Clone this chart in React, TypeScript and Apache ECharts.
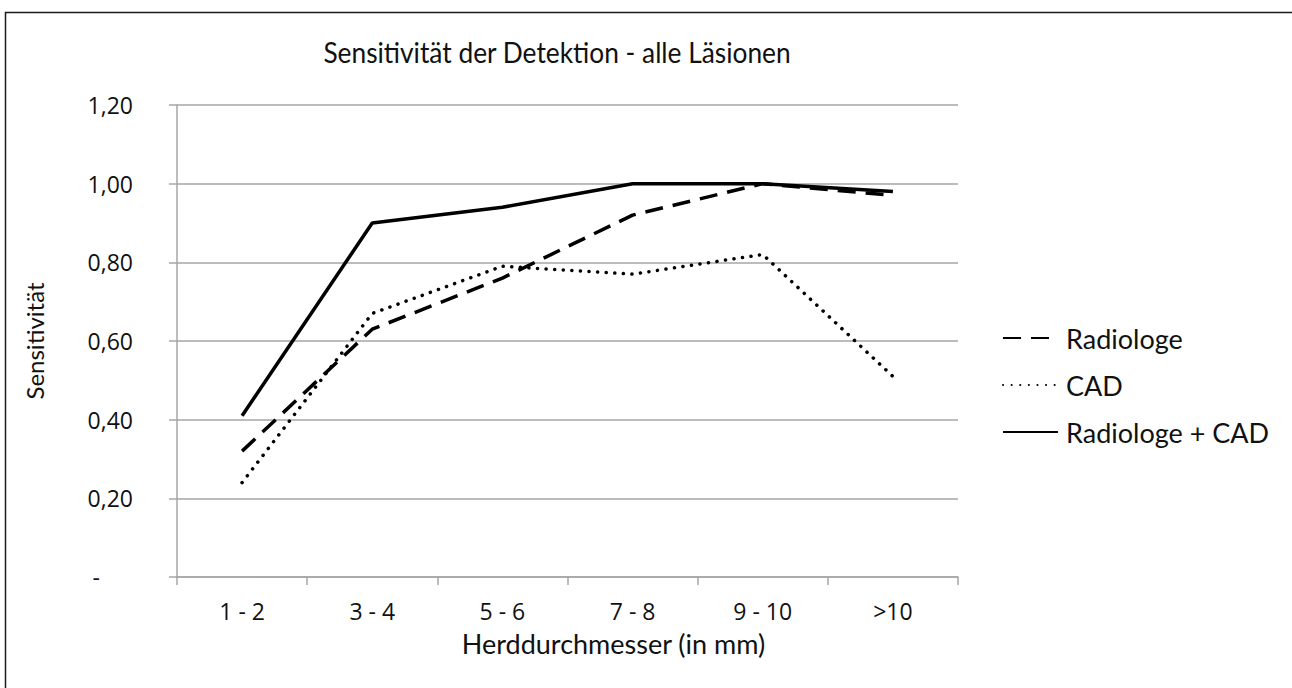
import React, { useEffect, useRef } from "react";
import * as echarts from "echarts";

const categories = ["1 - 2", "3 - 4", "5 - 6", "7 - 8", "9 - 10", ">10"];
const radiologe = [0.32, 0.63, 0.76, 0.92, 1.0, 0.97];
const cad = [0.24, 0.67, 0.79, 0.77, 0.82, 0.51];
const radiologeCad = [0.41, 0.9, 0.94, 1.0, 1.0, 0.98];
const seriesNames = ["Radiologe", "CAD", "Radiologe + CAD"];
const titleText = "Sensitivität der Detektion - alle Läsionen";
const xAxisTitle = "Herddurchmesser (in mm)";
const yAxisTitle = "Sensitivität";

export default function App() {
  const ref = useRef<HTMLDivElement>(null);
  useEffect(() => {
    if (!ref.current) return;
    const chart = echarts.init(ref.current, null, { renderer: "svg" });
    const tickFont = "Open Sans";
    const labelFont = "Lato";
    chart.setOption({
      animation: false,
      backgroundColor: "#fff",
      graphic: [
        {
          type: "rect",
          shape: { x: 5.5, y: 12.5, width: 1400, height: 800 },
          style: { fill: "none", stroke: "#1a1a1a", lineWidth: 1.5 },
          silent: true,
        },
        {
          type: "text",
          x: 557,
          y: 52,
          scaleX: 0.94,
          style: {
            text: titleText,
            fontFamily: labelFont,
            fontSize: 28,
            fill: "#111",
            align: "center",
            verticalAlign: "middle",
          },
        },
      ],
      grid: { left: 177, right: 334, top: 105, bottom: 111, containLabel: false },
      legend: {
        orient: "vertical",
        left: 997,
        top: 318,
        itemWidth: 55,
        itemHeight: 14,
        itemGap: 17,
        itemStyle: { opacity: 0 },
        textStyle: {
          fontFamily: labelFont,
          fontSize: 27,
          color: "#111",
          lineHeight: 30,
          padding: [0, 0, 0, 3],
        },
        data: seriesNames,
      },
      xAxis: {
        type: "category",
        data: categories,
        boundaryGap: true,
        axisLine: { lineStyle: { color: "#a6a6a6", width: 1.5 } },
        axisTick: { show: true, length: 8, lineStyle: { color: "#a6a6a6", width: 1.5 } },
        axisLabel: { fontFamily: tickFont, fontSize: 23, color: "#111", margin: 22 },
        name: xAxisTitle,
        nameLocation: "middle",
        nameGap: 53,
        nameTextStyle: { fontFamily: labelFont, fontSize: 27, color: "#111", padding: [0, 0, 0, 92] },
      },
      yAxis: {
        type: "value",
        min: 0,
        max: 1.2,
        interval: 0.2,
        axisLine: { show: true, lineStyle: { color: "#a6a6a6", width: 1.5 } },
        axisTick: { show: true, length: 8, lineStyle: { color: "#a6a6a6", width: 1.5 } },
        splitLine: { lineStyle: { color: "#a6a6a6", width: 1.5 } },
        axisLabel: {
          fontFamily: tickFont,
          fontSize: 23,
          color: "#111",
          margin: 44,
          formatter: (v: number) =>
            v === 0 ? "{d|-}" : v.toFixed(2).replace(".", ","),
          rich: { d: { fontFamily: tickFont, fontSize: 23, color: "#111", padding: [0, 33, 0, 0] } },
        },
        name: yAxisTitle,
        nameLocation: "middle",
        nameGap: 131,
        nameRotate: 90,
        nameTextStyle: { fontFamily: labelFont, fontSize: 24, color: "#111" },
      },
      series: [
        {
          name: seriesNames[0],
          type: "line",
          data: radiologe,
          symbol: "none",
          lineStyle: { color: "#000", width: 3.5, type: [18, 10] },
          itemStyle: { color: "#000" },
        },
        {
          name: seriesNames[1],
          type: "line",
          data: cad,
          symbol: "none",
          lineStyle: { color: "#000", width: 3.5, type: [0.1, 8.5], cap: "round" },
          itemStyle: { color: "#000" },
        },
        {
          name: seriesNames[2],
          type: "line",
          data: radiologeCad,
          symbol: "none",
          lineStyle: { color: "#000", width: 3.5 },
          itemStyle: { color: "#000" },
        },
      ],
    });
    return () => chart.dispose();
  }, []);
  return (
    <div
      ref={ref}
      style={{ position: "fixed", left: 0, top: 0, width: 1292, height: 688, background: "#fff" }}
    />
  );
}
